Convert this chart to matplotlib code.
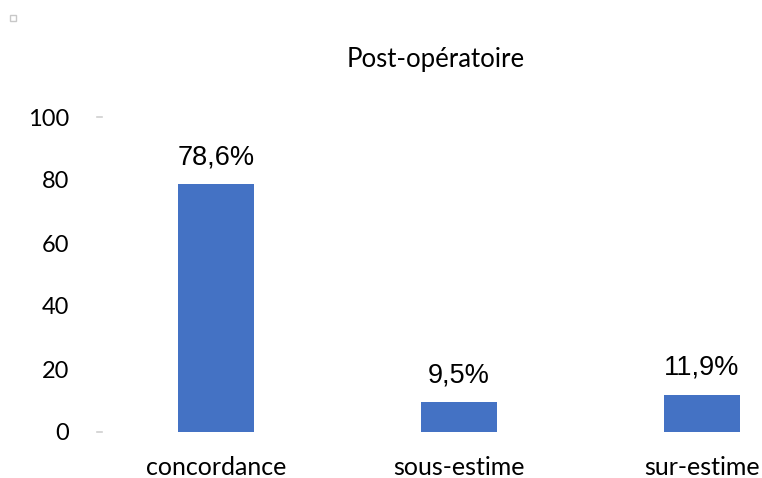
import matplotlib
matplotlib.use("Agg")
import matplotlib.pyplot as plt
from matplotlib.patches import Rectangle

categories = ["concordance", "sous-estime", "sur-estime"]
values = [78.6, 9.5, 11.9]
value_labels = ["78,6%", "9,5%", "11,9%"]
yticks = [0, 20, 40, 60, 80, 100]
title = "Post-opératoire"

W, H = 762, 478
fig = plt.figure(figsize=(W / 100, H / 100), dpi=100)
ax = fig.add_axes([97 / W, (H - 432) / H, 1 - 97 / W, (432 - 117) / H])

x = list(range(len(categories)))
ax.bar(x, values, width=0.313, color="#4472C4")
ax.set_xlim(-0.49, 2.247)
ax.set_ylim(0, 100)
for s in ax.spines.values():
    s.set_visible(False)
ax.set_yticks(yticks)
ax.set_yticklabels([str(t) for t in yticks], fontsize=17, fontfamily="Lato")
ax.tick_params(axis="y", length=0, pad=20)
ax.set_xticks(x)
ax.set_xticklabels(categories, fontsize=18, fontfamily="Lato")
ax.tick_params(axis="x", length=0, pad=17)

# faint tick marks
for yv in (0, 100):
    ax.plot([-0.49, -0.47], [yv, yv], color="#d0d0d0", lw=1.2, clip_on=False)

for xi, v, lab in zip(x, values, value_labels):
    ax.annotate(lab, (xi, v), xytext=(0, 10), textcoords="offset points",
                ha="center", va="bottom", fontsize=19.5, fontfamily="Liberation Sans")

fig.text(436 / W, 1 - 60 / H, title, ha="center", va="center", fontsize=18.5, fontfamily="Lato")
fig.patches.append(Rectangle((10 / W, 1 - 21 / H), 6 / W, 6 / H, transform=fig.transFigure,
                             fill=False, edgecolor="#c8c8c8", lw=1))

fig.savefig("out.png", dpi=100)
